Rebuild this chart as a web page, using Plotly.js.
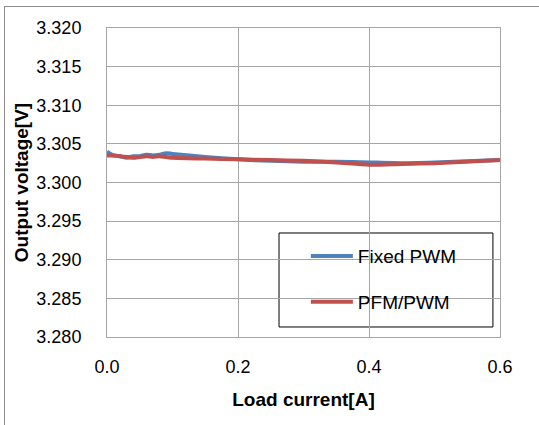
<!DOCTYPE html>
<html><head><meta charset="utf-8">
<script src="https://cdn.plot.ly/plotly-3.0.1.min.js"></script>
<style>
html,body{margin:0;padding:0;background:#fff;overflow:hidden;}
#wrap{position:relative;width:539px;height:425px;overflow:hidden;}
#chart{width:539px;height:425px;}
#frame{position:absolute;left:4px;top:6px;width:700px;height:700px;border:1px solid #8c8c8c;pointer-events:none;}
</style></head>
<body><div id="wrap"><div id="chart"></div><div id="frame"></div></div>
<script>
const loadCurrent = [0.000,0.010,0.020,0.030,0.040,0.050,0.060,0.070,0.080,0.090,0.100,0.150,0.200,0.250,0.300,0.350,0.400,0.450,0.500,0.600];
const fixedPWM    = [3.3040,3.3035,3.3034,3.3032,3.3034,3.3034,3.3036,3.3035,3.3036,3.3038,3.3037,3.3033,3.3030,3.3028,3.3027,3.3027,3.3026,3.3025,3.3026,3.3029];
const pfmPWM      = [3.3035,3.3035,3.3034,3.3033,3.3032,3.3033,3.3034,3.3033,3.3034,3.3033,3.3032,3.3031,3.3030,3.3029,3.3028,3.3026,3.3023,3.3024,3.3025,3.3029];
const yTicks = [3.280,3.285,3.290,3.295,3.300,3.305,3.310,3.315,3.320];
const yTickText = ["3.280","3.285","3.290","3.295","3.300","3.305","3.310","3.315","3.320"];
const xTicks = [0.0,0.2,0.4,0.6];
const xTickText = ["0.0","0.2","0.4","0.6"];

const font = "Liberation Sans, Arial, sans-serif";
const traces = [
  {x: loadCurrent, y: fixedPWM, name: "Fixed PWM", mode: "lines", legendgroup: "a",
   line: {color: "#4F81BD", width: 4, shape: "spline", smoothing: 0.6}},
  {x: loadCurrent, y: pfmPWM, name: "PFM/PWM", mode: "lines", legendgroup: "b",
   line: {color: "#C0504D", width: 4, shape: "spline", smoothing: 0.6}}
];
const layout = {
  width: 539, height: 425,
  margin: {l: 107, r: 39, t: 28, b: 88},
  paper_bgcolor: "#fff", plot_bgcolor: "#fff",
  font: {family: font, size: 18, color: "#000"},
  showlegend: true,
  legend: {x: 0.506, y: 0.323, xanchor: "left", yanchor: "top",
    borderwidth: 0, bgcolor: "rgba(0,0,0,0)",
    traceorder: "grouped", tracegroupgap: 18,
    font: {family: font, size: 19, color: "#000"},
    itemwidth: 42},
  shapes: [{type: "rect", xref: "paper", yref: "paper",
    x0: 0.4377, x1: 0.982, y0: 0.0324, y1: 0.3366,
    line: {color: "#000", width: 1}, fillcolor: "rgba(0,0,0,0)", layer: "below"}],
  xaxis: {range: [0, 0.6], tickvals: xTicks, ticktext: xTickText,
    showgrid: true, gridcolor: "#a6a6a6", gridwidth: 1,
    showline: true, linecolor: "#a6a6a6", linewidth: 1, mirror: true,
    zeroline: false, ticks: "", ticklen: 0, ticklabelstandoff: 13,
    tickfont: {family: font, size: 18},
    title: {text: "<b>Load current[A]</b>", font: {family: font, size: 19}, standoff: 17}},
  yaxis: {range: [3.280, 3.320], tickvals: yTicks, ticktext: yTickText,
    showgrid: true, gridcolor: "#a6a6a6", gridwidth: 1,
    showline: true, linecolor: "#a6a6a6", linewidth: 1, mirror: true,
    zeroline: false, ticks: "", ticklen: 0, ticklabelstandoff: 21,
    tickfont: {family: font, size: 18},
    title: {text: "<b>Output voltage[V]</b>", font: {family: font, size: 19}, standoff: 2}}
};
Plotly.newPlot("chart", traces, layout, {displayModeBar: false, staticPlot: true});
</script></body></html>
